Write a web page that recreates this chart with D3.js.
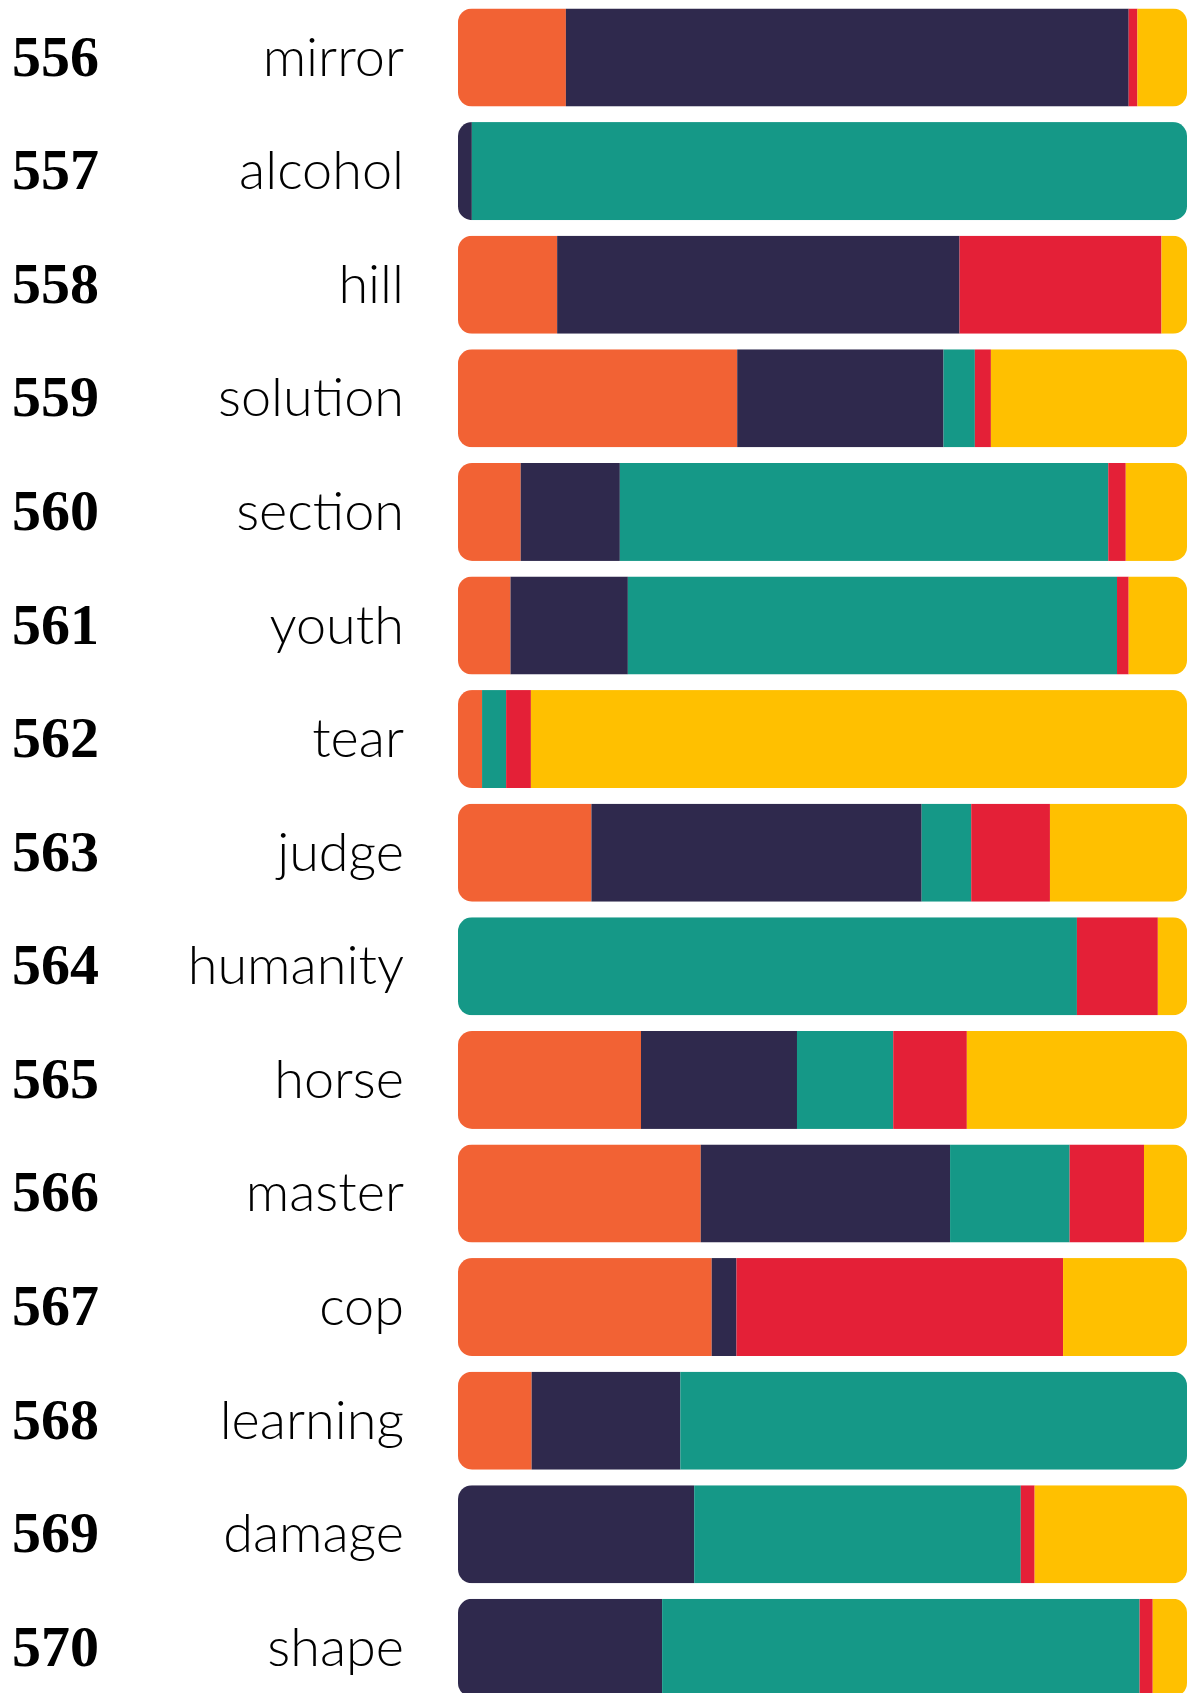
<!DOCTYPE html>
<html><head><meta charset="utf-8">
<script src="https://cdn.jsdelivr.net/npm/d3@7"></script>
<style>html,body{margin:0;padding:0;background:#fff;overflow:hidden}</style>
</head><body>
<svg id="chart" width="1189" height="1693"></svg>
<script>
const ranks = ["556","557","558","559","560","561","562","563","564","565","566","567","568","569","570"];
const words = ["mirror","alcohol","hill","solution","section","youth","tear","judge","humanity","horse","master","cop","learning","damage","shape"];
const orange = [14.8, 0, 13.6, 38.3, 8.6, 7.2, 3.3, 18.3, 0, 25.1, 33.3, 34.8, 10.1, 0, 0];
const navy   = [77.2, 1.9, 55.2, 28.3, 13.6, 16.1, 0, 45.3, 0, 21.4, 34.2, 3.4, 20.4, 32.4, 28.0];
const teal   = [0, 98.1, 0, 4.3, 67.0, 67.1, 3.3, 6.8, 84.9, 13.2, 16.4, 0, 69.5, 44.8, 65.5];
const red    = [1.2, 0, 27.7, 2.2, 2.4, 1.6, 3.4, 10.8, 11.1, 10.1, 10.2, 44.8, 0, 1.9, 1.8];
const yellow = [6.8, 0, 3.5, 26.9, 8.4, 8.0, 90.0, 18.8, 4.0, 30.2, 5.9, 17.0, 0, 20.9, 4.7];

const keys = ["orange","navy","teal","red","yellow"];
const colors = {orange:"#F26234", navy:"#2F294D", teal:"#159887", red:"#E42037", yellow:"#FFC000"};
const series = {orange, navy, teal, red, yellow};
const rows = words.map((w,i)=>{const o={word:w, rank:ranks[i]}; keys.forEach(k=>o[k]=series[k][i]); return o;});

const svg = d3.select("#chart");
const x = d3.scaleLinear().domain([0,100]).range([458,1187]);
const y = d3.scaleBand().domain(words).range([8.5,1696.9]).paddingInner(0.137).paddingOuter(0);
const stack = d3.stack().keys(keys)(rows);

const defs = svg.append("defs");
rows.forEach((r,i)=>{
  defs.append("clipPath").attr("id","clip"+i).append("rect")
    .attr("x",x(0)).attr("y",y(r.word)).attr("width",x(100)-x(0)).attr("height",y.bandwidth())
    .attr("rx",14).attr("ry",14);
});

const g = svg.append("g");
rows.forEach((r,i)=>{
  const rg = g.append("g").attr("clip-path",`url(#clip${i})`);
  stack.forEach(s=>{
    const d = s[i];
    if (d[1]-d[0] <= 0) return;
    rg.append("rect").attr("x",x(d[0])).attr("y",y(r.word))
      .attr("width",x(d[1])-x(d[0])).attr("height",y.bandwidth())
      .attr("fill",colors[s.key]);
  });
});

svg.append("g").selectAll("text.rank").data(rows).join("text")
  .attr("class","rank")
  .attr("x",12)
  .attr("y",d=>y(d.word)+y.bandwidth()/2+18)
  .attr("font-family","'Liberation Serif', 'DejaVu Serif', serif")
  .attr("font-weight","bold").attr("font-size",58).attr("fill","#000")
  .text(d=>d.rank);

svg.append("g").selectAll("text.word").data(rows).join("text")
  .attr("class","word")
  .attr("x",404).attr("text-anchor","end")
  .attr("y",d=>y(d.word)+y.bandwidth()/2+18)
  .attr("font-family","Lato, 'Open Sans', sans-serif")
  .attr("font-weight",300).attr("font-size",54).attr("fill","#000")
  .text(d=>d.word);
</script>
</body></html>
